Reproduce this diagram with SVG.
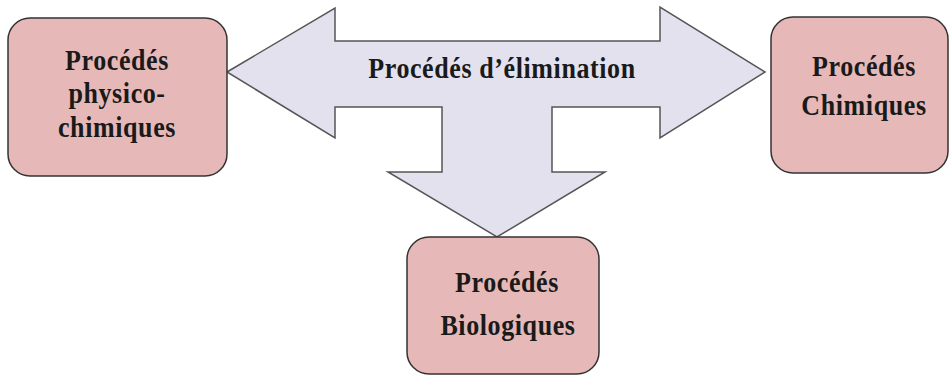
<svg xmlns="http://www.w3.org/2000/svg" width="949" height="376" viewBox="0 0 949 376">
<style>
.box{fill:#e6b9b8;stroke:#333;stroke-width:1.5}
.arrow{fill:#e3e1ee;stroke:#555;stroke-width:1.5;stroke-linejoin:miter}
.t{font-family:"Liberation Serif","Times New Roman",serif;font-weight:bold;font-size:26px;fill:#1a1a1a;text-anchor:middle;letter-spacing:0.6px}
</style>
<rect width="949" height="376" fill="#fff"/>
<g id="connectors">
<path class="arrow" d="M227,72 L335,8 L335,41 L660,41 L660,7 L765,72 L660,138 L660,107 L552,107 L552,172 L605,172 L497,237 L388,172 L442,172 L442,107 L335,107 L335,138 Z"/>
<text class="t" transform="translate(502,78) scale(1,1.15)">Procédés d’élimination</text>
</g>
<g id="node-physico">
<rect class="box" x="8" y="18" width="219" height="158" rx="22"/>
<text class="t" transform="translate(117,70) scale(1,1.12)">Procédés</text>
<text class="t" transform="translate(117,103) scale(1,1.12)">physico-</text>
<text class="t" transform="translate(117,137) scale(1,1.12)">chimiques</text>
</g>
<g id="node-chimiques">
<rect class="box" x="771" y="17" width="177" height="156" rx="22"/>
<text class="t" transform="translate(864,76) scale(1,1.12)">Procédés</text>
<text class="t" transform="translate(864,115) scale(1,1.12)">Chimiques</text>
</g>
<g id="node-biologiques">
<rect class="box" x="407" y="237" width="192" height="137" rx="22"/>
<text class="t" transform="translate(507,292) scale(1,1.12)">Procédés</text>
<text class="t" transform="translate(508,335) scale(1,1.12)">Biologiques</text>
</g>
</svg>
